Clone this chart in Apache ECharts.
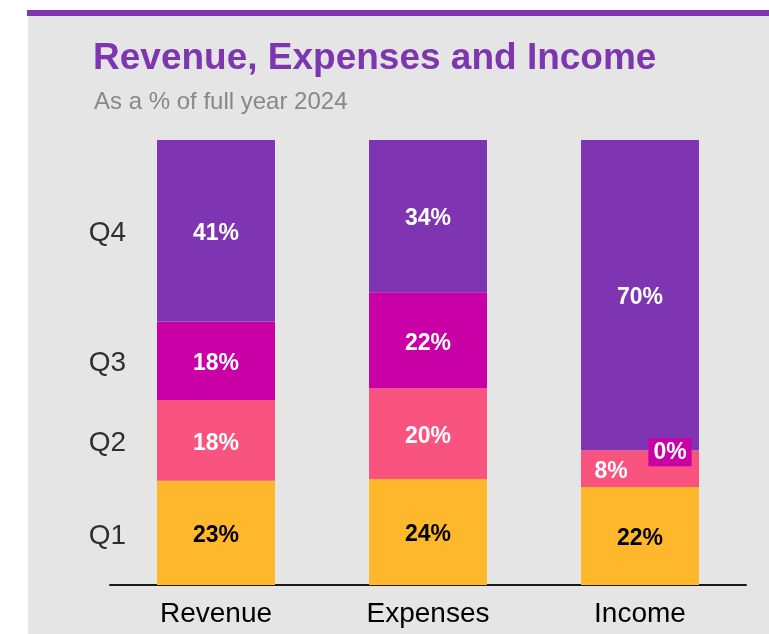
<!DOCTYPE html>
<html>
<head>
<meta charset="utf-8">
<script src="https://cdn.jsdelivr.net/npm/echarts@6/dist/echarts.min.js"></script>
<style>
html,body{margin:0;padding:0;background:#ffffff;}
#chart{width:769px;height:634px;}
</style>
</head>
<body>
<div id="chart"></div>
<script>
const categories = ['Revenue', 'Expenses', 'Income'];
const quarters = ['Q1', 'Q2', 'Q3', 'Q4'];
const q1 = [23.4, 23.8, 22.0];
const q2 = [18.2, 20.4, 8.3];
const q3 = [17.6, 21.6, 0.0];
const q4 = [40.8, 34.2, 69.7];
const colors = ['#FFB72B', '#F9537F', '#C800A6', '#7F35B2'];
const titleText = 'Revenue, Expenses and Income';
const subtitleText = 'As a % of full year 2024';

const seriesData = [q1, q2, q3, q4];
const font = 'Arial, "Liberation Sans", sans-serif';

// Quarter label positions: centers of the Revenue segments
const qCenters = [];
let acc = 0;
for (let i = 0; i < 4; i++) {
  qCenters.push([categories[0], acc + seriesData[i][0] / 2]);
  acc += seriesData[i][0];
}

function valueLabel(color) {
  return {
    show: true,
    position: 'inside',
    offset: [0, 3],
    color: color,
    fontFamily: font,
    fontWeight: 'bold',
    fontSize: 23,
    formatter: p => Math.round(p.value) + '%'
  };
}

const series = seriesData.map((arr, i) => ({
  name: quarters[i],
  type: 'bar',
  stack: 'total',
  barWidth: 118,
  itemStyle: { color: colors[i] },
  label: valueLabel(i === 0 ? '#000000' : '#ffffff'),
  data: arr.map((v, j) => {
    const d = { value: v };
    if (i === 1 && j === 2) {
      d.label = { offset: [-29, 3] };
    }
    if (i === 2 && j === 2) {
      d.label = { offset: [30, 2], backgroundColor: colors[2], padding: [3, 5, 2, 5] };
    }
    return d;
  })
}));

series.push({
  type: 'scatter',
  symbolSize: 0,
  silent: true,
  data: qCenters.map((c, i) => ({ value: c, name: quarters[i] })),
  label: {
    show: true,
    position: 'left',
    distance: 90,
    offset: [0, 3],
    color: '#000000',
    fontFamily: font,
    fontSize: 28,
    formatter: p => p.name
  },
  z: 5
});

const chart = echarts.init(document.getElementById('chart'));
chart.setOption({
  animation: false,
  backgroundColor: '#ffffff',
  graphic: [
    { type: 'rect', z: -10, shape: { x: 28, y: 15, width: 741, height: 619 }, style: { fill: '#E5E5E5' } },
    { type: 'rect', z: -9, shape: { x: 27, y: 10, width: 742, height: 6 }, style: { fill: '#7F35B2' } }
  ],
  title: [
    {
      text: titleText,
      left: 88, top: 35,
      textStyle: { fontFamily: font, fontWeight: 'bold', fontSize: 37, color: '#7E35B0' }
    },
    {
      text: subtitleText,
      left: 89, top: 85,
      textStyle: { fontFamily: font, fontWeight: 'normal', fontSize: 24, color: '#888888' }
    }
  ],
  grid: { left: 110, right: 23, top: 140, bottom: 49, containLabel: false },
  xAxis: {
    type: 'category',
    data: categories,
    axisLine: { show: true, lineStyle: { color: '#1a1a1a', width: 2 } },
    axisTick: { show: false },
    axisLabel: { color: '#000000', fontFamily: font, fontSize: 28, margin: 15 }
  },
  yAxis: {
    type: 'value',
    min: 0, max: 100,
    show: false,
    splitLine: { show: false }
  },
  series: series
});
</script>
</body>
</html>
